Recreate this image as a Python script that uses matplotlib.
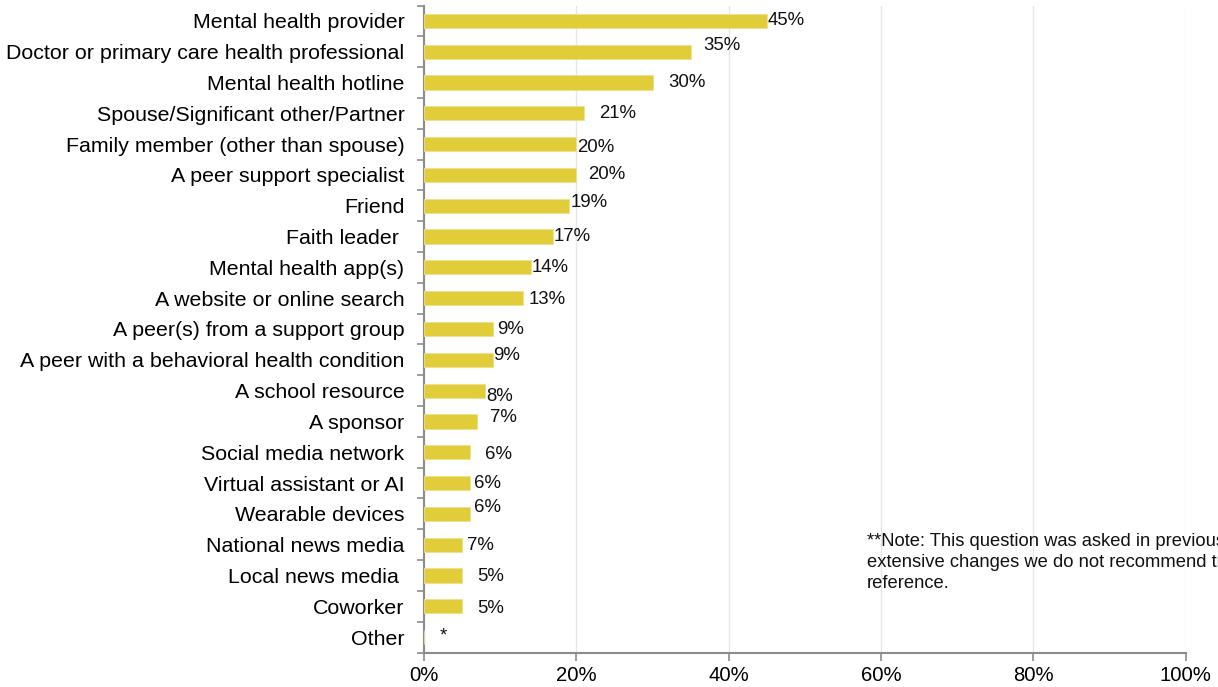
import matplotlib
matplotlib.use("Agg")
import matplotlib.pyplot as plt
import numpy as np

plt.rcParams['font.family'] = ['Liberation Sans', 'DejaVu Sans']

categories = [
    "Mental health provider",
    "Doctor or primary care health professional",
    "Mental health hotline",
    "Spouse/Significant other/Partner",
    "Family member (other than spouse)",
    "A peer support specialist",
    "Friend",
    "Faith leader ",
    "Mental health app(s)",
    "A website or online search",
    "A peer(s) from a support group",
    "A peer with a behavioral health condition",
    "A school resource",
    "A sponsor",
    "Social media network",
    "Virtual assistant or AI",
    "Wearable devices",
    "National news media",
    "Local news media ",
    "Coworker",
    "Other",
]
values = [45, 35, 30, 21, 20, 20, 19, 17, 14, 13, 9, 9, 8, 7, 6, 6, 6, 5, 5, 5, 0]
value_labels = ["45%", "35%", "30%", "21%", "20%", "20%", "19%", "17%", "14%", "13%",
                "9%", "9%", "8%", "7%", "6%", "6%", "6%", "7%", "5%", "5%", "*"]
x_ticks = [0, 20, 40, 60, 80, 100]
x_tick_labels = ["0%", "20%", "40%", "60%", "80%", "100%"]

# label placement (style): left edge in axis % units and vertical nudge in category units
label_x = [45.1, 36.7, 32.1, 23.0, 20.1, 21.6, 19.3, 17.0, 14.1, 13.7,
           9.6, 9.1, 8.2, 8.6, 8.0, 6.6, 6.6, 5.7, 7.0, 7.0, 2.0]
label_dy = [0, -0.2, 0, 0, 0.1, 0, -0.1, 0, 0, 0.05,
            0, -0.13, 0.2, -0.13, 0.06, 0, -0.22, 0.04, 0.04, 0.06, -0.05]

note = ("**Note: This question was asked in previous years, however due to\n"
        "extensive changes we do not recommend trending; shown here for\n"
        "reference.")

bar_color = "#E1CD3A"
spine_color = "#8C8C8C"

fig = plt.figure(figsize=(12.18, 6.87), dpi=100)
ax = fig.add_axes([424/1218, 1 - 652.5/687, (1185.7-424)/1218, (652.5-5.5)/687])

n = len(categories)
y = np.arange(n)
ax.barh(y, values, height=0.46, color=bar_color, edgecolor="#EFE08A", linewidth=0.6, zorder=3)

for i in range(n):
    ax.text(label_x[i], y[i] + label_dy[i], value_labels[i], fontsize=13.4,
            ha="left", va="center", color="#111111", zorder=4)

ax.set_xlim(0, 100)
ax.set_ylim(n - 0.5, -0.5)
ax.set_xticks(x_ticks)
ax.set_xticklabels(x_tick_labels, fontsize=14.6)

ax.set_yticks(y)
ax.set_yticklabels(categories, fontsize=15.4)
ax.set_yticks(np.arange(-0.5, n, 1.0), minor=True)
ax.tick_params(axis="y", which="major", length=0, pad=14)
ax.tick_params(axis="y", which="minor", length=5, width=1.2, color=spine_color, direction="out")
ax.tick_params(axis="x", which="major", length=6, width=1.2, color=spine_color, pad=4)

ax.grid(axis="x", color="#E6E6E6", linewidth=1.0, zorder=0)
ax.set_axisbelow(True)
for s in ["top", "right"]:
    ax.spines[s].set_visible(False)
for s in ["left", "bottom"]:
    ax.spines[s].set_color(spine_color)
    ax.spines[s].set_linewidth(1.5)

fig.text(867/1218, 1 - 533/687, note, fontsize=13.2, ha="left", va="top",
         linespacing=1.3, color="#111111")

fig.savefig("out.png", dpi=100)
